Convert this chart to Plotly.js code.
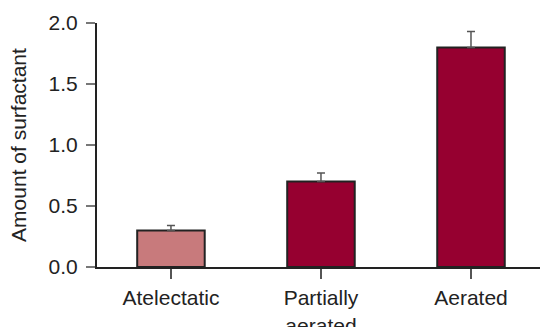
<!DOCTYPE html>
<html>
<head>
<meta charset="utf-8">
<script src="https://cdn.plot.ly/plotly-3.0.1.min.js"></script>
<style>
html,body{margin:0;padding:0;background:#fff;}
#chart{width:540px;height:327px;}
</style>
</head>
<body>
<div id="chart"></div>
<script>
var categories = ["Atelectatic", "Partially<br>aerated", "Aerated"];
var values = [0.30, 0.70, 1.80];
var errorsUp = [0.04, 0.07, 0.13];
var barColors = ["#c87a7c", "#960030", "#960030"];
var yTickVals = [0, 0.5, 1.0, 1.5, 2.0];
var yTickText = ["0.0", "0.5", "1.0", "1.5", "2.0"];

var trace = {
  type: "bar",
  x: categories,
  y: values,
  width: 0.45,
  marker: {color: barColors, line: {color: "#222222", width: 2}},
  error_y: {type: "data", symmetric: false, array: errorsUp, arrayminus: [0,0,0],
            color: "#555555", thickness: 1.5, width: 4},
  hoverinfo: "none"
};

var layout = {
  width: 540, height: 327,
  margin: {l: 97, r: 0, t: 23, b: 60},
  paper_bgcolor: "#ffffff", plot_bgcolor: "#ffffff",
  font: {family: "Liberation Sans, Arial, sans-serif", size: 21, color: "#222222"},
  showlegend: false,
  xaxis: {
    type: "category",
    range: [-0.493, 2.46],
    showgrid: false, zeroline: false,
    showline: true, linecolor: "#222222", linewidth: 2,
    ticks: "outside", ticklen: 10, tickwidth: 1.5, tickcolor: "#555555",
    tickfont: {size: 21, color: "#222222"},
    ticklabelstandoff: 1,
    fixedrange: true
  },
  yaxis: {
    range: [0, 2.0],
    tickvals: yTickVals, ticktext: yTickText,
    showgrid: false, zeroline: false,
    showline: true, linecolor: "#222222", linewidth: 2,
    ticks: "outside", ticklen: 9, tickwidth: 1.5, tickcolor: "#777777",
    tickfont: {size: 21, color: "#222222"},
    ticklabelstandoff: 4,
    title: {text: "Amount of surfactant", font: {size: 21, color: "#222222"}, standoff: 16},
    fixedrange: true
  }
};

Plotly.newPlot("chart", [trace], layout, {displayModeBar: false, staticPlot: true});
</script>
</body>
</html>
